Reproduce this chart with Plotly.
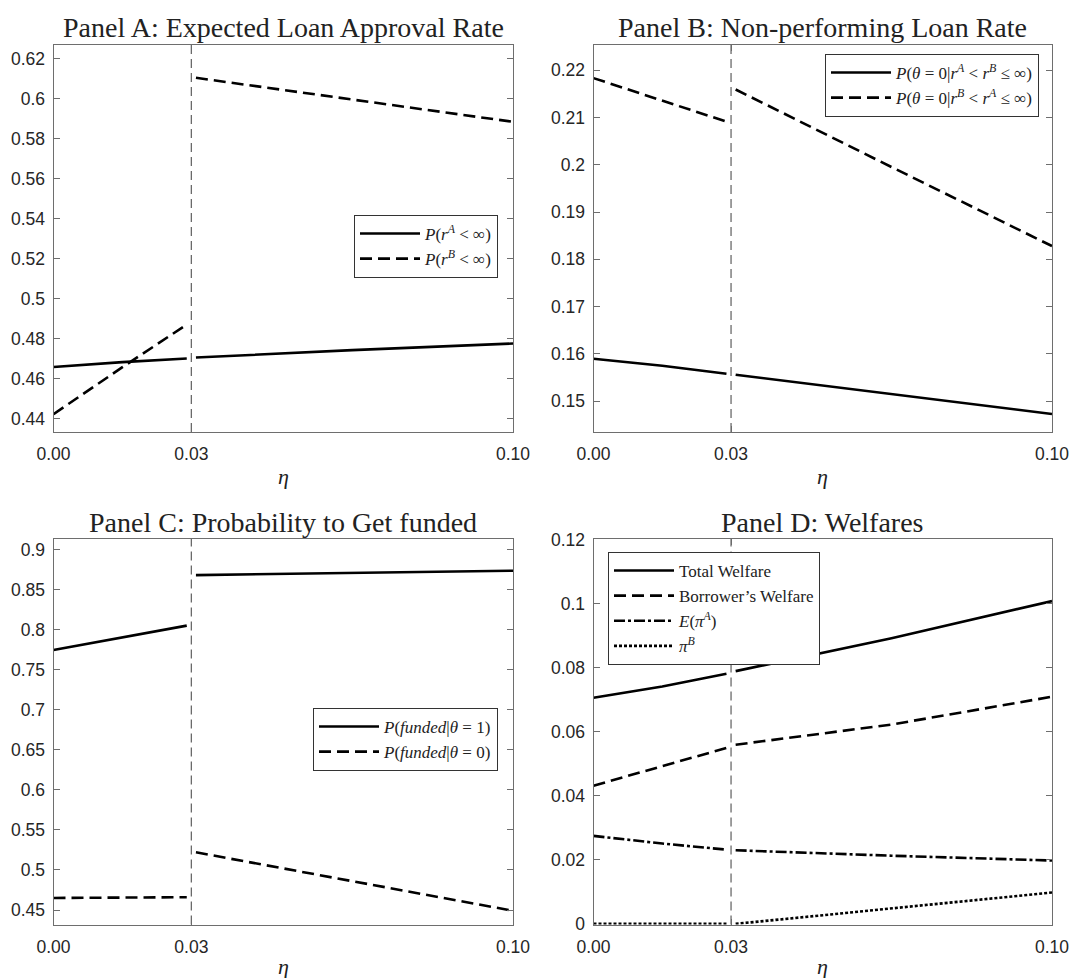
import plotly.graph_objects as go

# ---------------- data ----------------
eta_left = [0.0, 0.015, 0.029]
eta_right = [0.031, 0.065, 0.10]

# Panel A: expected loan approval rate
A_rA_left = [0.4658, 0.4682, 0.4700]
A_rA_right = [0.4705, 0.4742, 0.4775]
A_rB_left = [0.4422, 0.4657, 0.4870]
A_rB_right = [0.6103, 0.5996, 0.5883]

# Panel B: non-performing loan rate
B_AB_left = [0.1590, 0.1575, 0.1558]
B_AB_right = [0.1556, 0.1515, 0.1473]
B_BA_left = [0.2183, 0.2136, 0.2091]
B_BA_right = [0.2159, 0.1995, 0.1828]

# Panel C: probability to get funded
C_f1_left = [0.7745, 0.7900, 0.8050]
C_f1_right = [0.8680, 0.8710, 0.8735]
C_f0_left = [0.4650, 0.4655, 0.4660]
C_f0_right = [0.5220, 0.4860, 0.4490]

# Panel D: welfares
D_total_left = [0.0707, 0.0742, 0.0782]
D_total_right = [0.0790, 0.0893, 0.1009]
D_borrow_left = [0.0432, 0.0492, 0.0550]
D_borrow_right = [0.0560, 0.0623, 0.0710]
D_piA_left = [0.0275, 0.0251, 0.0232]
D_piA_right = [0.0230, 0.0213, 0.0198]
D_piB_left = [0.0, 0.0, 0.0]
D_piB_right = [0.0, 0.0048, 0.0098]

eta_cut = 0.03
x_tickvals = [0.0, 0.03, 0.10]
x_ticktext = ["0.00", "0.03", "0.10"]

A_ticks = [0.44, 0.46, 0.48, 0.50, 0.52, 0.54, 0.56, 0.58, 0.60, 0.62]
A_ticktext = ["0.44", "0.46", "0.48", "0.5", "0.52", "0.54", "0.56", "0.58", "0.6", "0.62"]
B_ticks = [0.15, 0.16, 0.17, 0.18, 0.19, 0.20, 0.21, 0.22]
B_ticktext = ["0.15", "0.16", "0.17", "0.18", "0.19", "0.2", "0.21", "0.22"]
C_ticks = [0.45, 0.50, 0.55, 0.60, 0.65, 0.70, 0.75, 0.80, 0.85, 0.90]
C_ticktext = ["0.45", "0.5", "0.55", "0.6", "0.65", "0.7", "0.75", "0.8", "0.85", "0.9"]
D_ticks = [0.0, 0.02, 0.04, 0.06, 0.08, 0.10, 0.12]
D_ticktext = ["0", "0.02", "0.04", "0.06", "0.08", "0.1", "0.12"]

titles = ["Panel A: Expected Loan Approval Rate", "Panel B: Non-performing Loan Rate",
          "Panel C: Probability to Get funded", "Panel D: Welfares"]

# ---------------- layout geometry ----------------
W, H = 1070, 978
def px_x(p):
    return p / W
def px_y(p):
    return (H - p) / H

dom_x_left = [px_x(53.5), px_x(513)]
dom_x_right = [px_x(593.5), px_x(1052)]
dom_y_top = [px_y(432), px_y(45)]
dom_y_bot = [px_y(924.5), px_y(539)]

SERIF = "Liberation Serif"
SANS = "Liberation Sans"
LW = 2.6
DASH = "12px,6px"
DASHDOT = "11px,3px,3px,3px"
DOT = "3px,2px"

fig = go.Figure()

def seg(xl, yl, xr, yr):
    return list(xl) + [None] + list(xr), list(yl) + [None] + list(yr)

def add(xl, yl, xr, yr, name, dash, axis, legend):
    x, y = seg(xl, yl, xr, yr)
    fig.add_trace(go.Scatter(
        x=x, y=y, mode="lines", name=name,
        line=dict(color="black", width=LW, dash=dash),
        xaxis="x" + axis, yaxis="y" + axis, legend=legend,
        connectgaps=False, hoverinfo="skip"))

# Panel A
add(eta_left, A_rA_left, eta_right, A_rA_right,
    "<i>P</i>(<i>r</i><sup><i>A</i></sup> &lt; ∞)", "solid", "", "legend")
add(eta_left, A_rB_left, eta_right, A_rB_right,
    "<i>P</i>(<i>r</i><sup><i>B</i></sup> &lt; ∞)", DASH, "", "legend")
# Panel B
add(eta_left, B_AB_left, eta_right, B_AB_right,
    "<i>P</i>(<i>θ</i> = 0|<i>r</i><sup><i>A</i></sup> &lt; <i>r</i><sup><i>B</i></sup> ≤ ∞)",
    "solid", "2", "legend2")
add(eta_left, B_BA_left, eta_right, B_BA_right,
    "<i>P</i>(<i>θ</i> = 0|<i>r</i><sup><i>B</i></sup> &lt; <i>r</i><sup><i>A</i></sup> ≤ ∞)",
    DASH, "2", "legend2")
# Panel C
add(eta_left, C_f1_left, eta_right, C_f1_right,
    "<i>P</i>(<i>funded</i>|<i>θ</i> = 1)", "solid", "3", "legend3")
add(eta_left, C_f0_left, eta_right, C_f0_right,
    "<i>P</i>(<i>funded</i>|<i>θ</i> = 0)", DASH, "3", "legend3")
# Panel D
add(eta_left, D_total_left, eta_right, D_total_right, "Total Welfare", "solid", "4", "legend4")
add(eta_left, D_borrow_left, eta_right, D_borrow_right, "Borrower’s Welfare", DASH, "4", "legend4")
add(eta_left, D_piA_left, eta_right, D_piA_right,
    "<i>E</i>(<i>π</i><sup><i>A</i></sup>)", DASHDOT, "4", "legend4")
add(eta_left, D_piB_left, eta_right, D_piB_right,
    "<i>π</i><sup><i>B</i></sup>", DOT, "4", "legend4")

AXC = "#6e6e6e"
TICKC = "#262626"

def xaxis(domain, anchor):
    return dict(domain=domain, anchor=anchor, range=[0, 0.10], automargin=False,
                tickvals=x_tickvals, ticktext=x_ticktext,
                ticks="inside", ticklen=6, tickcolor=AXC, tickwidth=1,
                showline=True, linecolor=AXC, linewidth=1, mirror="allticks",
                showgrid=False, zeroline=False, ticklabeloverflow="allow",
                tickfont=dict(family=SANS, size=17.5, color=TICKC),
                ticklabelstandoff=6)

def yaxis(domain, anchor, rng, tv, tt):
    return dict(domain=domain, anchor=anchor, range=rng, automargin=False,
                tickvals=tv, ticktext=tt,
                ticks="inside", ticklen=6, tickcolor=AXC, tickwidth=1,
                showline=True, linecolor=AXC, linewidth=1, mirror="allticks",
                showgrid=False, zeroline=False, ticklabeloverflow="allow",
                tickfont=dict(family=SANS, size=17.5, color=TICKC),
                ticklabelstandoff=4)

def legend_cfg(x, y, xanchor):
    return dict(x=x, y=y, xanchor=xanchor, yanchor="top", xref="paper", yref="paper",
                bgcolor="white", bordercolor="#333333", borderwidth=1,
                font=dict(family=SERIF, size=17, color="#222222"),
                itemwidth=60,
                tracegroupgap=0, itemclick=False, itemdoubleclick=False)

fig.update_layout(
    width=W, height=H, autosize=False,
    margin=dict(l=0, r=0, t=0, b=0, autoexpand=False),
    paper_bgcolor="white", plot_bgcolor="white",
    showlegend=True,
    xaxis=xaxis(dom_x_left, "y"),
    yaxis=yaxis(dom_y_top, "x", [0.4333, 0.6267], A_ticks, A_ticktext),
    xaxis2=xaxis(dom_x_right, "y2"),
    yaxis2=yaxis(dom_y_top, "x2", [0.1435, 0.2253], B_ticks, B_ticktext),
    xaxis3=xaxis(dom_x_left, "y3"),
    yaxis3=yaxis(dom_y_bot, "x3", [0.4319, 0.9131], C_ticks, C_ticktext),
    xaxis4=xaxis(dom_x_right, "y4"),
    yaxis4=yaxis(dom_y_bot, "x4", [-0.0002, 0.1203], D_ticks, D_ticktext),
    legend=legend_cfg(px_x(498), px_y(215), "right"),
    legend2=legend_cfg(px_x(1039), px_y(54), "right"),
    legend3=legend_cfg(px_x(498), px_y(708), "right"),
    legend4=legend_cfg(px_x(608), px_y(552), "left"),
)

# vertical reference lines at the regime cut
for ax in ["", "2", "3", "4"]:
    fig.add_shape(type="line", xref="x" + ax, yref="y" + ax + " domain",
                  x0=eta_cut, x1=eta_cut, y0=0, y1=1,
                  line=dict(color="#6a6a6a", width=1.3, dash="9px,5px"), layer="above")

# titles and axis labels
centers = [(dom_x_left, 28), (dom_x_right, 28), (dom_x_left, 522), (dom_x_right, 522)]
for t, (dom, ypix) in zip(titles, centers):
    fig.add_annotation(text=t, x=(dom[0] + dom[1]) / 2, y=px_y(ypix), xref="paper", yref="paper",
                       xanchor="center", yanchor="middle", showarrow=False,
                       font=dict(family=SERIF, size=28, color="#222222"))
for dom, ypix in [(dom_x_left, 477), (dom_x_right, 477), (dom_x_left, 966), (dom_x_right, 966)]:
    fig.add_annotation(text="<i>η</i>", x=(dom[0] + dom[1]) / 2, y=px_y(ypix), xref="paper", yref="paper",
                       xanchor="center", yanchor="middle", showarrow=False,
                       font=dict(family=SERIF, size=22, color="#222222"))

# remove the default page margin so the figure sits at the window's top-left corner
fig.write_html("out.html",
               config={"displayModeBar": False, "staticPlot": True},
               post_script="document.body.style.margin='0';document.body.style.overflow='hidden';")
